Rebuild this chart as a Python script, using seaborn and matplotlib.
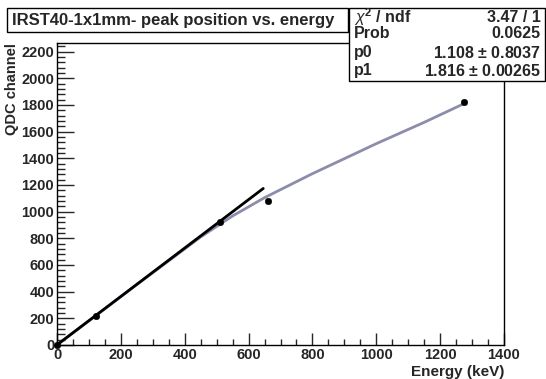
import numpy as np
import pandas as pd
import matplotlib
matplotlib.use("Agg")
import matplotlib.pyplot as plt
from matplotlib.ticker import MultipleLocator
from matplotlib.patches import Rectangle
import seaborn as sns

# measured points (keV, QDC channel)
energia = [0, 122, 511, 662, 1275]
canal = [0, 218, 922, 1082, 1822]

# curva de saturacao
curva_x = [0, 250, 450, 550, 650, 800, 1000, 1150, 1279]
curva_y = [0, 453, 810, 968, 1105, 1285, 1510, 1670, 1815]

# ajuste linear p0 + p1*x
ajuste_x = [0, 646]
ajuste_y = [1.1, 1174]

stats_nomes = ["$\\chi^{2}$ / ndf", "Prob", "p0", "p1"]
stats_vals = ["3.47 / 1", "0.0625", "1.108 $\\pm$ 0.8037", "1.816 $\\pm$ 0.00265"]

sns.set_style("ticks")
plt.rcParams["font.family"] = ["Liberation Sans", "DejaVu Sans"]
plt.rcParams["mathtext.fontset"] = "custom"
plt.rcParams["mathtext.rm"] = "Liberation Sans:bold"
plt.rcParams["mathtext.it"] = "Liberation Sans:italic"

fig = plt.figure(figsize=(5.46, 3.79), dpi=100)
W, H = 546, 379
ax = fig.add_axes([57 / W, 1 - 345 / H, (504 - 57) / W, (345 - 43) / H])

df_pts = pd.DataFrame({"E": energia, "Q": canal})
df_curva = pd.DataFrame({"E": curva_x, "Q": curva_y})
df_fit = pd.DataFrame({"E": ajuste_x, "Q": ajuste_y})

sns.lineplot(data=df_curva, x="E", y="Q", ax=ax, color="#8c8cab", lw=2.0, zorder=2)
sns.lineplot(data=df_fit, x="E", y="Q", ax=ax, color="black", lw=2.0, zorder=3)
sns.scatterplot(data=df_pts, x="E", y="Q", ax=ax, color="black", s=22,
                edgecolor="black", zorder=4, clip_on=False)

ax.set_xlim(0, 1400)
ax.set_ylim(0, 2265)
ax.xaxis.set_major_locator(MultipleLocator(200))
ax.xaxis.set_minor_locator(MultipleLocator(50))
ax.yaxis.set_major_locator(MultipleLocator(200))
ax.yaxis.set_minor_locator(MultipleLocator(40))
ax.tick_params(which="both", direction="in", top=False, right=False,
               width=1.0, labelsize=10.5, pad=2)
ax.tick_params(axis="y", which="major", length=12)
ax.tick_params(axis="y", which="minor", length=6)
ax.tick_params(axis="x", which="major", length=9)
ax.tick_params(axis="x", which="minor", length=4.5)
for lab in ax.get_xticklabels() + ax.get_yticklabels():
    lab.set_fontweight("bold")
for sp in ax.spines.values():
    sp.set_visible(True)
    sp.set_linewidth(1.0)
    sp.set_color("black")

ax.set_xlabel("Energy (keV)", fontsize=11, fontweight="bold", ha="right")
ax.xaxis.set_label_coords(1.0, -0.065)
ax.set_ylabel("QDC channel", fontsize=10.5, fontweight="bold", ha="right")
ax.yaxis.set_label_coords(-0.085, 1.0)

# caixa do titulo
fig.patches.append(Rectangle((7 / W, 1 - 32 / H), (348 - 7) / W, 24 / H,
                             transform=fig.transFigure, facecolor="white",
                             edgecolor="black", lw=1.0, zorder=5))
fig.text(12 / W, 1 - 20 / H, "IRST40-1x1mm- peak position vs. energy",
         fontsize=12, fontweight="bold", va="center", ha="left", zorder=6)

# caixa de estatisticas
fig.patches.append(Rectangle((349 / W, 1 - 81 / H), (545 - 349) / W, 73 / H,
                             transform=fig.transFigure, facecolor="white",
                             edgecolor="black", lw=1.0, zorder=5))
linhas_y = [17, 34, 53, 71]
for nome, val, yy in zip(stats_nomes, stats_vals, linhas_y):
    fig.text(354 / W, 1 - yy / H, nome, fontsize=11.5, fontweight="bold",
             va="center", ha="left", zorder=6)
    fig.text(541 / W, 1 - yy / H, val, fontsize=11.5, fontweight="bold",
             va="center", ha="right", zorder=6)

fig.savefig("out.png", dpi=100)
